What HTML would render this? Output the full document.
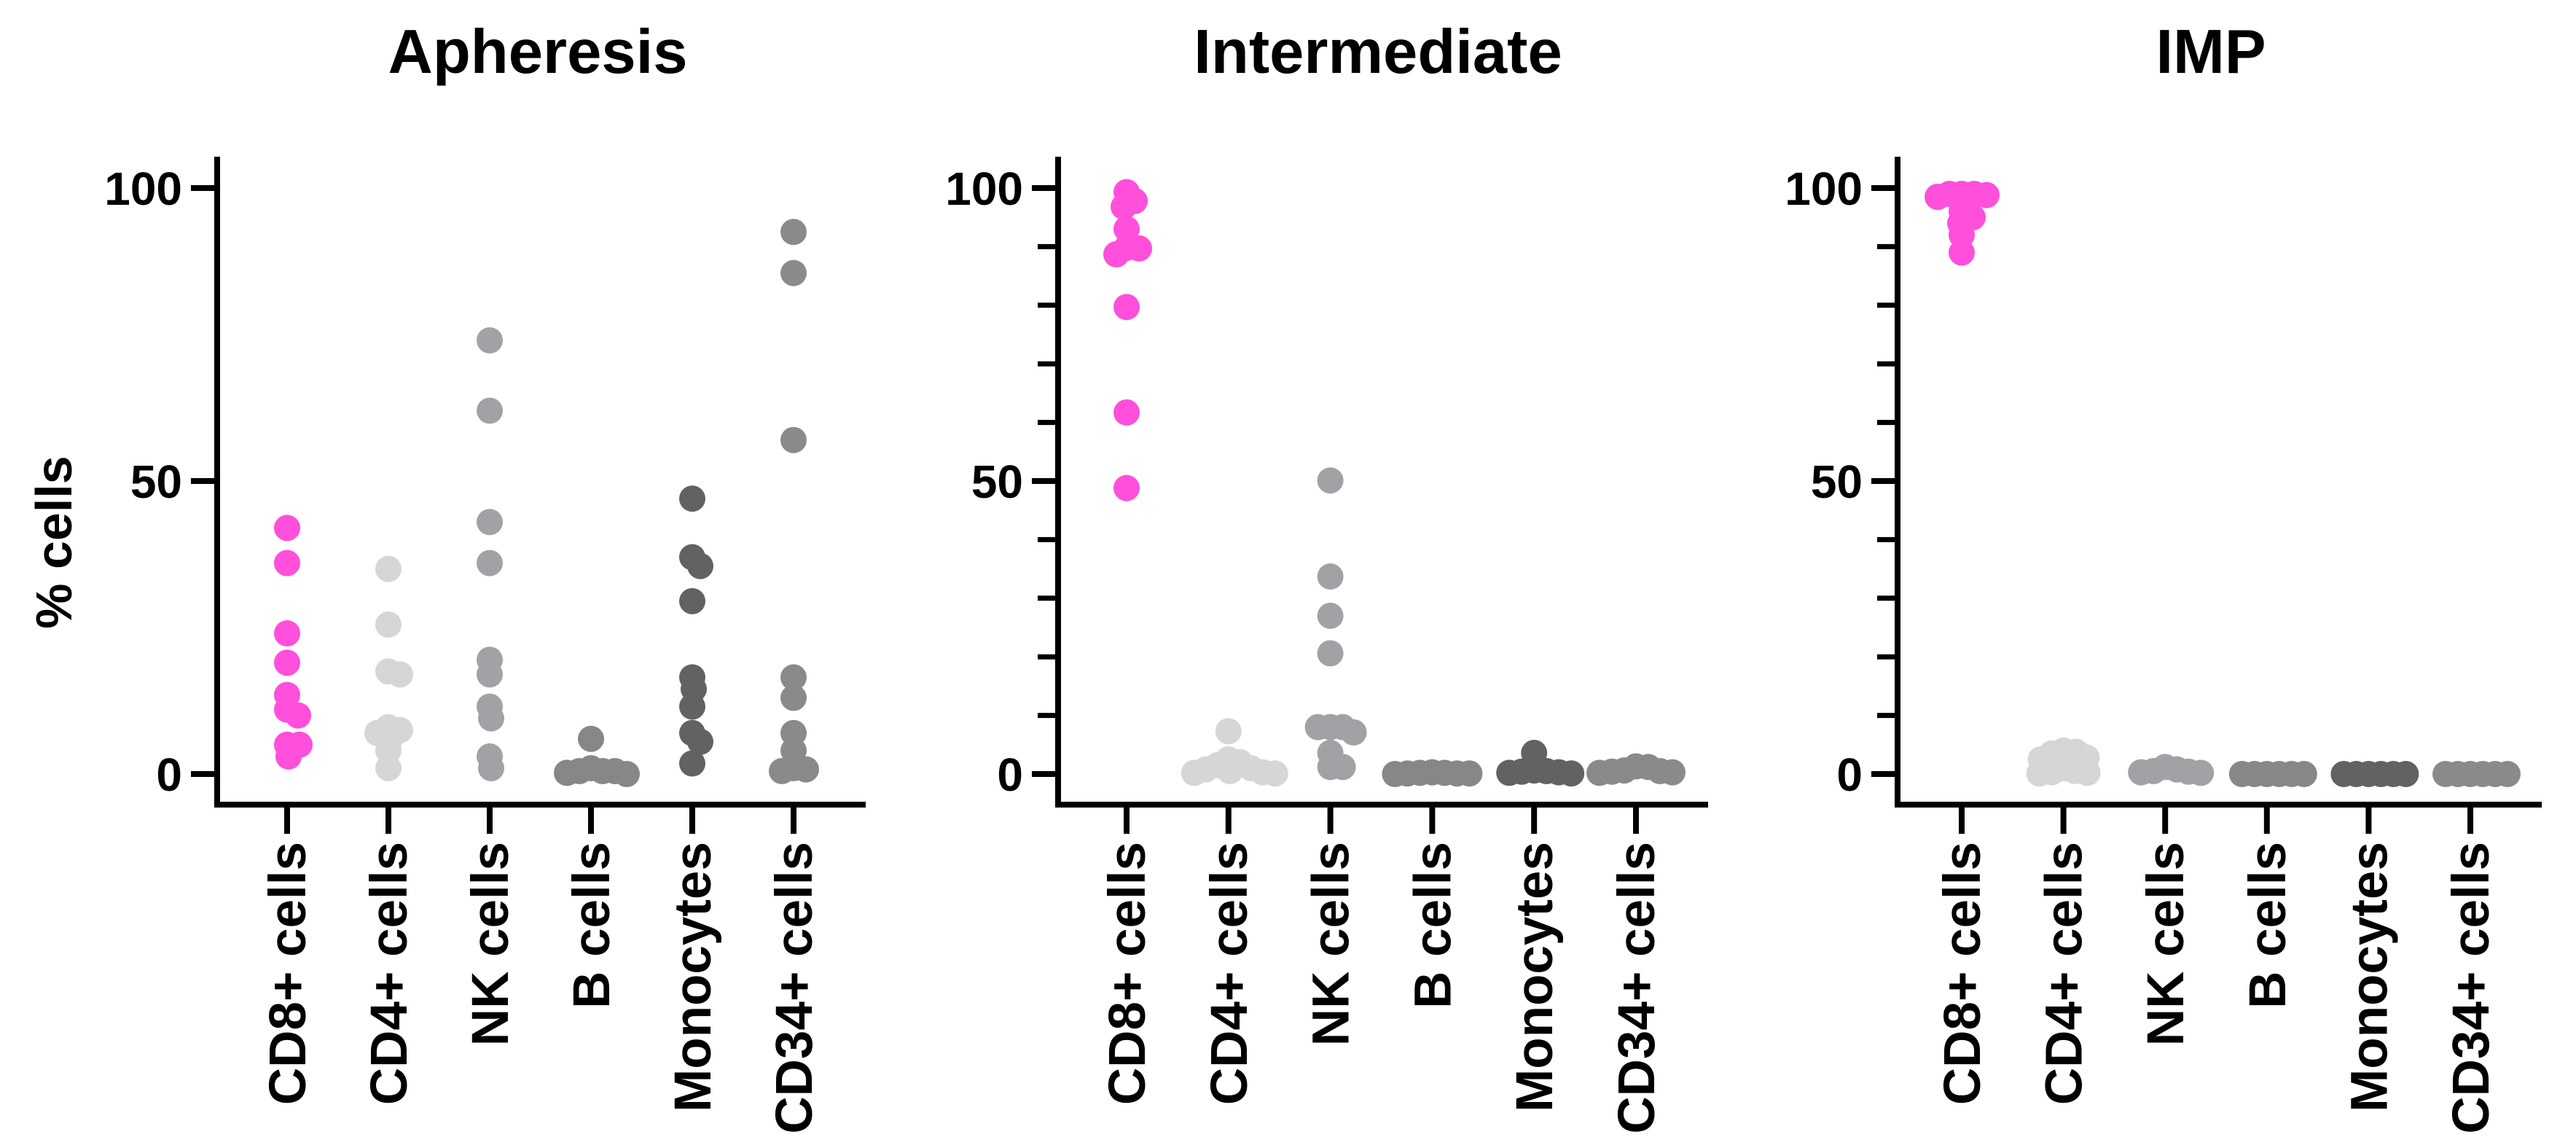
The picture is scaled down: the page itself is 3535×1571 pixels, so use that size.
<!DOCTYPE html>
<html><head><meta charset="utf-8"><style>
html,body{margin:0;padding:0;background:#fff;}
svg{display:block;font-family:"Liberation Sans",Arial,sans-serif;font-weight:bold;}
</style></head><body>
<svg id="chart" width="3535" height="1571" viewBox="0 0 3535 1571" xmlns="http://www.w3.org/2000/svg"></svg>
<script>
const categories = ["CD8+ cells","CD4+ cells","NK cells","B cells","Monocytes","CD34+ cells"];
const colors = ["#ff4fdb","#d6d6d6","#a2a2a6","#878787","#626262","#8a8a8a"];
const panelTitles = ["Apheresis","Intermediate","IMP"];
const yTicks = [0,50,100];
const apheresis = [
  [42,36,24,19,13.5,10,11,5,5,3],
  [35,25.5,17,17.5,8,7,7.5,6,4,1],
  [74,62,43,36,19.5,17,11.5,9.5,3,1],
  [6,1,0.5,0.5,0.2,0,0.5],
  [47,37,35.5,29.5,16.5,14.5,11.5,7,5.5,1.8],
  [92.5,85.5,57,16.5,13,7,4,1,0.8,0.5]
];
const intermediate = [
  [99.3,97.8,96.8,93,89.8,89.7,88.7,79.7,61.7,48.8],
  [7.3,2.5,2,1.5,1,0.8,0.5,0.3,0.2,0.1],
  [50.1,33.7,27,20.6,8,8,8,7.1,3.6,1.2,1.2],
  [0.3,0.2,0.2,0.1,0.1,0.1,0],
  [3.6,0.6,0.5,0.4,0.3,0.2,0.1],
  [1.3,1.2,0.6,0.5,0.4,0.3,0.2]
];
const imp = [
  [99,99,99,98.8,98.5,96,95,94,92,89],
  [4,3.8,3.5,2.8,2.5,1,0.5,0.3,0.2,0.1],
  [1.2,0.8,0.5,0.4,0.3,0.2],
  [0,0,0,0,0,0],
  [0,0,0,0,0,0],
  [0,0,0,0,0,0]
];
const panelData = [apheresis, intermediate, imp];

const NS = "http://www.w3.org/2000/svg";
const svg = document.getElementById("chart");
function el(tag, attrs, parent){const e=document.createElementNS(NS,tag);for(const k in attrs)e.setAttribute(k,attrs[k]);(parent||svg).appendChild(e);return e;}

const layout = [
  {axisX:298, endX:1188, cat0:394, step:139, titleX:738, minor:false},
  {axisX:1452, endX:2344, cat0:1546, step:139.8, titleX:1891, minor:true},
  {axisX:2604, endX:3488, cat0:2692, step:139.6, titleX:3034, minor:true}
];
const y0 = 1062, y100 = 258, axisTop = 215, axisBottom = 1104, R = 18;
function yScale(v){return y0 + (y100 - y0) * v / 100;}

function beeswarm(values, cx){
  const placed=[];
  const sorted=values.slice().sort((a,b)=>b-a);
  const minD = 2*R*0.45;
  sorted.forEach(v=>{
    const y=yScale(v);
    let best=null;
    for(let d=0; d<200 && best===null; d++){
      for(const s of (d===0?[0]:[d,-d])){
        const x=cx+s;
        if(placed.every(p=>Math.hypot(p.x-x,p.y-y)>=minD)){best=x;break;}
      }
    }
    placed.push({x:best===null?cx:best,y:y,v:v});
  });
  return placed;
}

layout.forEach((L,pi)=>{
  const g=el("g",{});
  
  
  const t=el("text",{x:L.titleX,y:100,"font-size":85,"text-anchor":"middle",fill:"#000"},g);
  t.textContent=panelTitles[pi];
  
  
  const ya=el("line",{x1:L.axisX,y1:axisTop,x2:L.axisX,y2:axisBottom+4,stroke:"#000","stroke-width":8},g);
  
  
  const xa=el("line",{x1:L.axisX-4,y1:axisBottom,x2:L.endX,y2:axisBottom,stroke:"#000","stroke-width":8},g);
  
  
  if(L.minor){
    for(let v=0; v<=100; v+=10){
      if(yTicks.includes(v)) continue;
      const m=el("line",{x1:L.axisX-28,y1:yScale(v),x2:L.axisX,y2:yScale(v),stroke:"#000","stroke-width":7},g);
      
      
    }
  }
  yTicks.forEach(v=>{
    const tk=el("line",{x1:L.axisX-36,y1:yScale(v),x2:L.axisX,y2:yScale(v),stroke:"#000","stroke-width":8},g);
    
    
    const tl=el("text",{x:L.axisX-48,y:yScale(v)+23,"font-size":64,"text-anchor":"end",fill:"#000"},g);
    tl.textContent=v;
    
    
  });
  categories.forEach((c,ci)=>{
    const cx=L.cat0+ci*L.step;
    const tk=el("line",{x1:cx,y1:axisBottom,x2:cx,y2:axisBottom+40,stroke:"#000","stroke-width":8},g);
    
    
    const lab=el("text",{x:0,y:0,"font-size":71,"text-anchor":"end",fill:"#000",transform:`translate(${cx+25},1155) rotate(-90)`},g);
    lab.textContent=c;
    
    
    beeswarm(panelData[pi][ci],cx).forEach(p=>{
      const dot=el("circle",{cx:p.x,cy:p.y,r:R,fill:colors[ci]},g);
      
      
    });
  });
});
const yl=el("text",{x:0,y:0,"font-size":70,"text-anchor":"middle",fill:"#000",transform:"translate(98,744) rotate(-90)"});
yl.textContent="% cells";


</script>
</body></html>
